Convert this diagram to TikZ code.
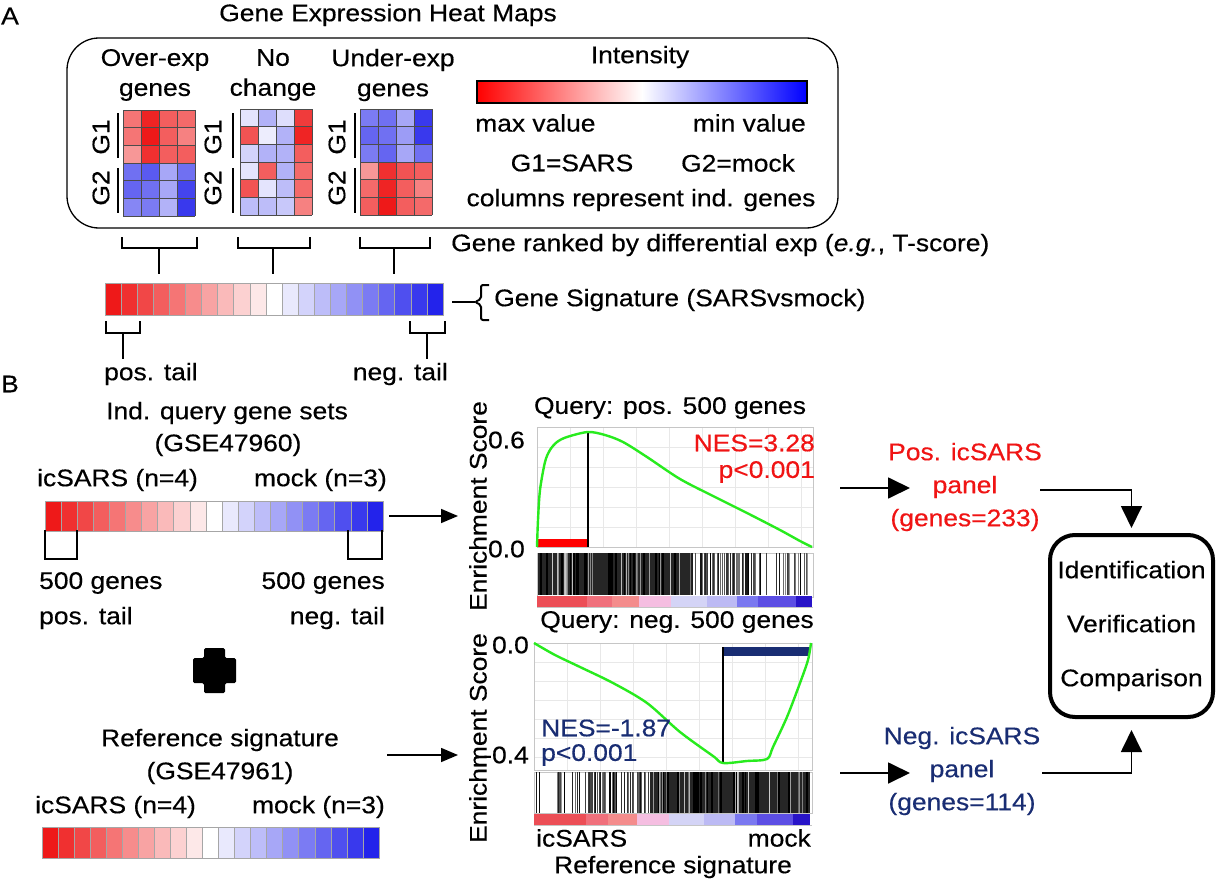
\documentclass[tikz,border=0pt]{standalone}
\usepackage{fontspec}
\setmainfont{Liberation Sans}[FakeStretch=1.1,FakeBold=0.4]
\usetikzlibrary{arrows.meta}
\definecolor{hred}{RGB}{238,25,25}
\definecolor{hblue}{RGB}{35,35,235}
\definecolor{navy}{RGB}{25,45,115}
\definecolor{lime}{RGB}{40,235,30}
\definecolor{nesred}{RGB}{240,20,20}
\definecolor{sa}{RGB}{236,78,86}
\definecolor{sb}{RGB}{240,112,124}
\definecolor{sc}{RGB}{244,140,140}
\definecolor{sd}{RGB}{245,190,225}
\definecolor{se}{RGB}{212,212,246}
\definecolor{sf}{RGB}{188,186,244}
\definecolor{sg}{RGB}{122,120,240}
\definecolor{sh}{RGB}{92,78,228}
\definecolor{si}{RGB}{40,20,200}
\tikzset{
  txt/.style={inner sep=0pt, font=\fontsize{24}{30}\selectfont},
  bigtxt/.style={inner sep=0pt, font=\fontsize{24}{30}\selectfont},
  brk/.style={line width=1.7, line cap=rect},
  conn/.style={line width=1.8},
  arrS/.style={line width=1.6, -{Triangle[length=17pt,width=14pt]}},
  arrL/.style={line width=1.8, -{Triangle[length=22pt,width=21pt]}},
  frm/.style={gray!45, line width=0.8},
  grd/.style={gray!18, line width=0.6},
  cellline/.style={gray!60!black, line width=0.7},
}
\newcommand{\hmap}[3]{%
  \foreach \c [count=\k from 0] in {#3} {
    \pgfmathtruncatemacro\cc{mod(\k,4)}
    \pgfmathtruncatemacro\rr{div(\k,4)}
    \fill[\c] ({#1+\cc*18},{#2+\rr*17.7}) rectangle ++(18,17.7);
  }
  \foreach \i in {0,...,4} \draw[cellline] ({#1+\i*18},#2) -- ++(0,106.2);
  \foreach \j in {0,...,6} \draw[cellline] (#1,{#2+\j*17.7}) -- ++(72,0);
}
\newcommand{\sigbar}[4]{%
  \foreach \i in {0,...,20}{
    \pgfmathtruncatemacro\pp{abs(10-\i)*10}
    \ifnum\i<10 \def\clr{hred}\else\def\clr{hblue}\fi
    \fill[\clr!\pp!white] ({#1+\i*#3},#2) rectangle ++(#3,#4);
    \draw[gray!70, line width=0.7] ({#1+\i*#3},#2) rectangle ++(#3,#4);
  }
}
\begin{document}
\begin{tikzpicture}[x=1pt,y=-1pt]
\useasboundingbox[fill=white] (0,0) rectangle (1216,883);

% ---------------- Panel A ----------------
\node[bigtxt] (labA) at (10,16) {A};
\node[txt] (title) at (388,15) {Gene Expression Heat Maps};
\draw[line width=1.3, rounded corners=32] (67,38) rectangle (838,228);

\node[txt, align=center] (h1) at (155,75) {Over-exp\\genes};
\node[txt, align=center] (h2) at (273,75) {No\\change};
\node[txt, align=center] (h3) at (393,75) {Under-exp\\genes};

\hmap{123}{110}{hred!60!white, hred!95!white, hred!70!white, hred!65!white,
 hred!60!white, hred, hred!70!white, hred!55!white,
 hred!45!white, hred!90!white, hred!70!white, hred!70!white,
 hblue!65!white, hblue!75!white, hblue!40!white, hblue!65!white,
 hblue!70!white, hblue!65!white, hblue!40!white, hblue!85!white,
 hblue!55!white, hblue!60!white, hblue!35!white, hblue!90!white}
\hmap{240}{109}{hblue!12!white, hblue!35!white, hblue!15!white, hred!85!white,
 hred!75!white, hblue!8!white, hblue!35!white, hred!95!white,
 hblue!20!white, hblue!35!white, hblue!35!white, hred!70!white,
 hblue!12!white, hred!70!white, hblue!35!white, hred!65!white,
 hred!75!white, hblue!12!white, hblue!30!white, hred!65!white,
 hblue!30!white, hblue!30!white, hblue!25!white, hred!55!white}
\hmap{360}{109}{hblue!60!white, hblue!65!white, hblue!40!white, hblue!90!white,
 hblue!70!white, hblue!65!white, hblue!45!white, hblue!90!white,
 hblue!60!white, hblue!70!white, hblue!40!white, hblue!65!white,
 hred!45!white, hred!90!white, hred!75!white, hred!70!white,
 hred!65!white, hred!95!white, hred!70!white, hred!55!white,
 hred!70!white, hred, hred!70!white, hred!65!white}

\node[txt, rotate=90] (g11) at (101,137) {G1};
\node[txt, rotate=90] (g12) at (101,188) {G2};
\node[txt, rotate=90] (g21) at (213,137) {G1};
\node[txt, rotate=90] (g22) at (213,188) {G2};
\node[txt, rotate=90] (g31) at (337,137) {G1};
\node[txt, rotate=90] (g32) at (337,188) {G2};
\foreach \xx in {118,233,355}{
  \draw[line width=1.5] (\xx,113) -- (\xx,158);
  \draw[line width=1.5] (\xx,168) -- (\xx,213);
}

\node[txt] (inten) at (640,57) {Intensity};
\shade[left color=red, right color=blue, middle color=white] (477,81) rectangle (807,103);
\draw[line width=2.4] (477,81) rectangle (807,103);
\node[txt, anchor=west] (maxv) at (475,123) {max value};
\node[txt, anchor=east] (minv) at (806,123) {min value};
\node[txt] (g1s) at (572,163) {G1=SARS};
\node[txt] (g2m) at (738,163) {G2=mock};
\node[txt] (cols) at (641,200) {columns represent ind. genes};

% braces under heat maps
\draw[brk] (122,238) -- (122,248) -- (197,248) -- (197,238);
\draw[brk] (159,248) -- (159,273);
\draw[brk] (238,238) -- (238,248) -- (310,248) -- (310,238);
\draw[brk] (273,248) -- (273,273);
\draw[brk] (360,238) -- (360,248) -- (430,248) -- (430,238);
\draw[brk] (394,248) -- (394,273);
\node[txt, anchor=west] (rank) at (451,245) {Gene ranked by differential exp (\textit{e.g.}, T-score)};

% gene signature bar
\sigbar{105}{283}{16.1}{32}
\node[minimum width=338, minimum height=32, inner sep=0] (sig) at (274,299) {};
\coordinate (brc) at (475,302);
\draw[conn] ([xshift=9]sig.east |- brc) -- (brc);
\draw[line width=2, rounded corners=2] (489,285) -- (481,285) -- (481,299) -- (475,302) -- (481,305) -- (481,320) -- (489,320);
\node[txt, anchor=west] (gsig) at (494,300) {Gene Signature (SARSvsmock)};

\draw[brk] (106,322) -- (106,333) -- (140,333) -- (140,322);
\draw[brk] (123,333) -- (123,358);
\draw[brk] (410,322) -- (410,333) -- (445,333) -- (445,322);
\draw[brk] (427,333) -- (427,358);
\node[txt, anchor=west] (post) at (104,374) {pos. tail};
\node[txt, anchor=east] (negt) at (448,374) {neg. tail};

% ---------------- Panel B ----------------
\node[bigtxt] (labB) at (10,384) {B};
\node[txt] (indq) at (227,413) {Ind. query gene sets};
\node[txt] (gse0) at (228,445) {(GSE47960)};
\node[txt, anchor=west] (qic) at (37,480) {icSARS (n=4)};
\node[txt, anchor=east] (qmk) at (387,480) {mock (n=3)};
\sigbar{45}{501}{16.1}{30}
\node[minimum width=338, minimum height=30, inner sep=0] (qbar) at (214,516) {};
\draw[brk] (45,531) -- (45,559) -- (77,559) -- (77,531);
\draw[brk] (348,531) -- (348,559) -- (382,559) -- (382,531);
\node[txt, anchor=west] (q500a) at (39,583) {500 genes};
\node[txt, anchor=west] (qpos) at (39,618) {pos. tail};
\node[txt, anchor=east] (q500b) at (385,583) {500 genes};
\node[txt, anchor=east] (qneg) at (385,618) {neg. tail};

\fill[rounded corners=1.5] (204,648) -- (225,648) -- (225,658) -- (236,658) -- (236,683) -- (225,683) -- (225,693) -- (204,693) -- (204,683) -- (193,683) -- (193,658) -- (204,658) -- cycle;

\node[txt] (refs) at (220,740) {Reference signature};
\node[txt] (gse1) at (220,773) {(GSE47961)};
\node[txt, anchor=west] (ric) at (35,807) {icSARS (n=4)};
\node[txt, anchor=east] (rmk) at (385,807) {mock (n=3)};
\sigbar{42}{827}{16.05}{31}
\node[minimum width=337, minimum height=31, inner sep=0] (rbar) at (210.5,842.5) {};

% ---------- Chart 1 ----------
\node[txt] (q1) at (670,408) {Query: pos. 500 genes};
\node[txt, rotate=90] (es1) at (478,506) {Enrichment Score};
\node[txt, anchor=east] (t06) at (525,440) {0.6};
\node[txt, anchor=east] (t00) at (525,549) {0.0};
\node[minimum width=276, minimum height=120, inner sep=0] (c1) at (675,487) {};
\foreach \gx in {570,603,636,669,702,735,768,801} \draw[grd] (\gx,427) -- (\gx,547);
\foreach \gy in {447,467,487,507,527} \draw[grd] (537,\gy) -- (813,\gy);
\draw[frm] (537,427) rectangle (813,547);
\draw[frm] (537,553) rectangle (813,597);
\draw[frm] (537,607) -- (813,607);
\fill[black!85] (538,553) rectangle (690,595);
\pgfmathsetseed{11}
\foreach \i in {1,...,30}{
  \pgfmathsetmacro\xx{540+148*rnd}
  \pgfmathtruncatemacro\gg{20+40*rnd}
  \draw[black!\gg, line width=0.8] (\xx,553) -- (\xx,595);
}
\foreach \i in {1,...,24}{
  \pgfmathsetmacro\xx{540+148*rnd}
  \draw[black, line width=1.6] (\xx,553) -- (\xx,595);
}
\foreach \i in {1,...,55}{
  \pgfmathsetmacro\xx{690+72*rnd}
  \pgfmathtruncatemacro\gg{55+45*rnd}
  \draw[black!\gg, line width=1.1] (\xx,553) -- (\xx,595);
}
\foreach \i in {1,...,18}{
  \pgfmathsetmacro\xx{762+46*rnd}
  \pgfmathtruncatemacro\gg{40+60*rnd}
  \draw[black!\gg, line width=1] (\xx,553) -- (\xx,595);
}
\fill[sa] (537,596) rectangle (587,607);
\fill[sb] (587,596) rectangle (612,607);
\fill[sc] (612,596) rectangle (639,607);
\fill[sd] (639,596) rectangle (671,607);
\fill[se] (671,596) rectangle (707,607);
\fill[sf] (707,596) rectangle (737,607);
\fill[sg] (737,596) rectangle (758,607);
\fill[sh] (758,596) rectangle (796,607);
\fill[si] (796,596) rectangle (812,607);
\fill[red] (537,539) rectangle (588,547);
\draw[line width=1.4] (588,432) -- (588,547);
\draw[lime, line width=2.4, line join=round] plot[smooth, tension=0.5] coordinates {(537,547) (538,520) (540,490) (545,462) (550,450) (557,442) (567,437) (588,432) (605,435) (623,442) (647,457) (680,479) (715,497) (747,513) (780,530) (800,541) (812,547)};
\node[txt, anchor=east, text=nesred] (nes1) at (815,443) {NES=3.28};
\node[txt, anchor=east, text=nesred] (p1) at (815,472) {p<0.001};

% ---------- Chart 2 ----------
\node[txt] (q2) at (677,622) {Query: neg. 500 genes};
\node[txt, rotate=90] (es2) at (478,738) {Enrichment Score};
\node[txt, anchor=east] (u00) at (529,645) {0.0};
\node[txt, anchor=east] (u04) at (529,755) {-0.4};
\node[minimum width=278, minimum height=127, inner sep=0] (c2) at (673,706.5) {};
\foreach \gx in {567,600,633,666,699,732,765,798} \draw[grd] (\gx,643) -- (\gx,770);
\foreach \gy in {662,681,700,719,738,757} \draw[grd] (534,\gy) -- (812,\gy);
\draw[frm] (534,643) rectangle (812,770);
\draw[frm] (534,772) rectangle (812,813);
\draw[frm] (534,825) -- (812,825);
\fill[black!85] (650,772) rectangle (810,813);
\pgfmathsetseed{23}
\foreach \i in {1,...,18}{
  \pgfmathsetmacro\xx{536+52*rnd}
  \pgfmathtruncatemacro\gg{40+60*rnd}
  \draw[black!\gg, line width=1] (\xx,772) -- (\xx,813);
}
\foreach \i in {1,...,50}{
  \pgfmathsetmacro\xx{588+62*rnd}
  \pgfmathtruncatemacro\gg{55+45*rnd}
  \draw[black!\gg, line width=1.1] (\xx,772) -- (\xx,813);
}
\foreach \i in {1,...,30}{
  \pgfmathsetmacro\xx{652+156*rnd}
  \pgfmathtruncatemacro\gg{20+40*rnd}
  \draw[black!\gg, line width=0.8] (\xx,772) -- (\xx,813);
}
\foreach \i in {1,...,24}{
  \pgfmathsetmacro\xx{652+156*rnd}
  \draw[black, line width=1.6] (\xx,772) -- (\xx,813);
}
\fill[sa] (534,814) rectangle (586,825);
\fill[sb] (586,814) rectangle (608,825);
\fill[sc] (608,814) rectangle (637,825);
\fill[sd] (637,814) rectangle (669,825);
\fill[se] (669,814) rectangle (704,825);
\fill[sf] (704,814) rectangle (735,825);
\fill[sg] (735,814) rectangle (757,825);
\fill[sh] (757,814) rectangle (793,825);
\fill[si] (793,814) rectangle (810,825);
\fill[navy] (723,647) rectangle (810,656);
\draw[line width=1.4] (723,647) -- (723,763);
\draw[lime, line width=2.4, line join=round] plot[smooth, tension=0.5] coordinates {(534,643) (555,655) (580,667) (613,683) (647,703) (680,732) (713,756) (723,763) (747,761) (767,759) (773,747) (787,717) (800,683) (808,660) (811,643)};
\node[txt, anchor=west, text=navy] (nes2) at (541,728) {NES=-1.87};
\node[txt, anchor=west, text=navy] (p2) at (541,755) {p<0.001};
\node[txt, anchor=west] (xic) at (536,838) {icSARS};
\node[txt, anchor=east] (xmk) at (811,838) {mock};
\node[txt] (xref) at (673,867) {Reference signature};

% ---------- connectors to charts ----------
\coordinate (in1) at (458,516);
\coordinate (in2) at (458,755);
\draw[arrS] ([xshift=6]qbar.east) -- (in1);
\coordinate (refo) at (387,755);
\draw[arrS] (refo) -- (in2);

% ---------- right side ----------
\node[txt, text=nesred, align=center, font=\fontsize{24}{33}\selectfont] (pos) at (965,487) {Pos. icSARS\\panel\\(genes=233)};
\node[txt, text=navy, align=center, font=\fontsize{24}{33}\selectfont] (neg) at (962,771) {Neg. icSARS\\panel\\(genes=114)};
\node[draw, line width=4, rounded corners=25, minimum width=163, minimum height=182, inner sep=0, align=center, font=\fontsize{24}{54}\selectfont] (ivc) at (1131.5,626) {Identification\\Verification\\Comparison};

\coordinate (o1) at (840,488);
\coordinate (t1) at (910,488);
\coordinate (o2) at (840,773);
\coordinate (t2) at (910,773);
\draw[arrL] (o1) -- (t1);
\draw[arrL] (o2) -- (t2);
\coordinate (s1) at (1040,490);
\coordinate (s2) at (1042,773);
\draw[arrL, shorten >=5pt] (s1) -| (ivc.north);
\draw[arrL, shorten >=11pt] (s2) -| (ivc.south);
\end{tikzpicture}
\end{document}
